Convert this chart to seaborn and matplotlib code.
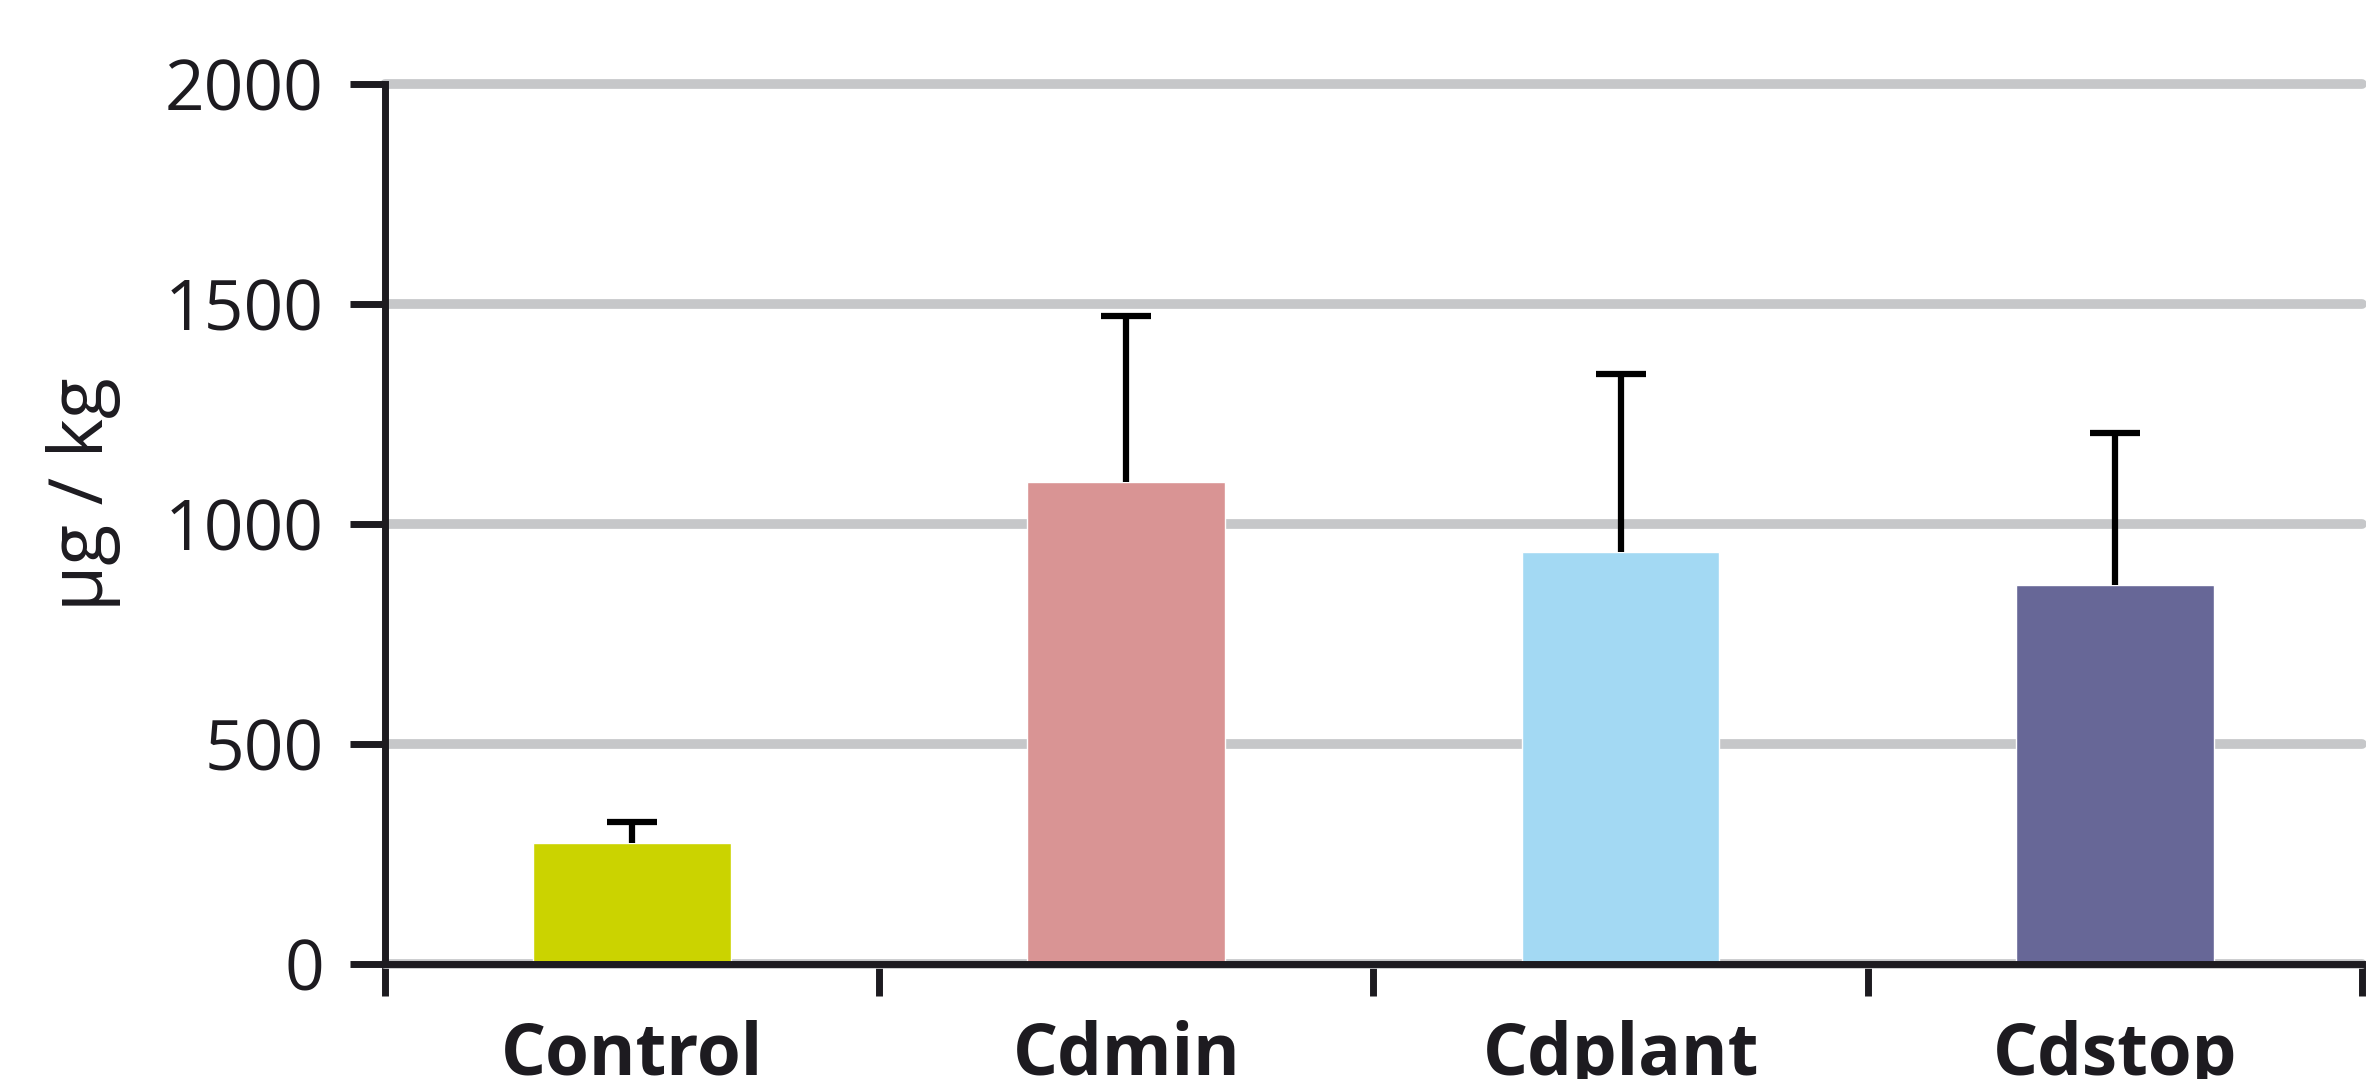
import matplotlib
matplotlib.use("Agg")
import numpy as np
import pandas as pd
import matplotlib.pyplot as plt
import seaborn as sns

# --- data ---
groups = ["Control", "Cdmin", "Cdplant", "Cdstop"]
means = [275, 1095, 937, 862]
upper_err = [47, 378, 405, 345]
bar_colors = ["#CBD300", "#D99494", "#A3D9F3", "#676797"]
y_ticks = [0, 500, 1000, 1500, 2000]

df = pd.DataFrame({"group": groups, "value": means})

sns.set_theme(style="white")
plt.rcParams["font.family"] = ["Open Sans", "DejaVu Sans"]

fig = plt.figure(figsize=(23.66, 10.79), dpi=100)
ax = fig.add_axes([0.1627, 0.1066, 0.8356, 0.8151])

sns.barplot(data=df, x="group", y="value", hue="group", palette=bar_colors,
            width=0.4, saturation=1, legend=False, ax=ax, zorder=3)

# error bars: upper side only
x_pos = np.arange(len(groups))
eb = ax.errorbar(x_pos, means, yerr=[np.zeros(len(means)), upper_err], fmt="none",
                 ecolor="black", elinewidth=4.5, capsize=18, capthick=4.5, zorder=4)
eb[1][0].set_visible(False)

ax.set_ylim(0, 2000)
ax.set_xlim(-0.5, len(groups) - 0.5)
ax.set_yticks(y_ticks)
ax.set_yticklabels([str(t) for t in y_ticks])

# ticks at the category boundaries, labels at the centres
ax.set_xticks(np.arange(len(groups) + 1) - 0.5)
ax.set_xticklabels([""] * (len(groups) + 1))
ax.set_xticks(x_pos, minor=True)
ax.set_xticklabels(groups, minor=True, fontsize=51, fontweight="bold", color="#1d1b20")
ax.tick_params(axis="x", which="major", length=23, width=5, color="#1d1b20", direction="out", bottom=True)
ax.tick_params(axis="x", which="minor", length=0, pad=40, bottom=True)
ax.tick_params(axis="y", length=25, width=5, color="#1d1b20", direction="out", pad=19,
               labelsize=50, labelcolor="#1d1b20", left=True)

ax.set_axisbelow(True)
ax.yaxis.grid(True, color="#C6C7C9", linewidth=7)
ax.xaxis.grid(False)
for gl in ax.get_ygridlines():
    gl.set_clip_on(False)

for side in ["top", "right"]:
    ax.spines[side].set_visible(False)
for side in ["left", "bottom"]:
    ax.spines[side].set_color("#1d1b20")
    ax.spines[side].set_linewidth(5)
    ax.spines[side].set_zorder(5)

ax.set_xlabel("")
ax.set_ylabel("µg / kg", fontsize=54, color="#1d1b20")
ax.yaxis.set_label_coords(-0.1335, 0.534)

fig.savefig("out.png", dpi=100)
